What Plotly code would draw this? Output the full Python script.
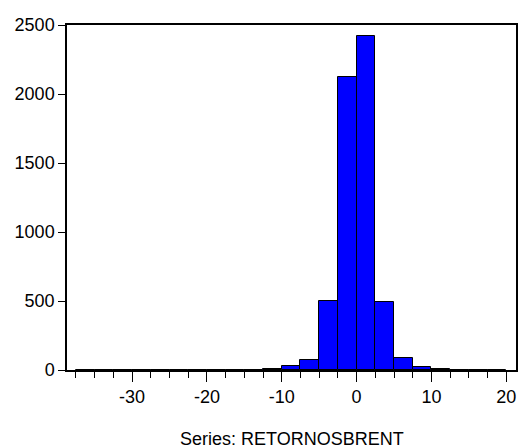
import plotly.graph_objects as go

bin_edges = [-37.5, -35, -32.5, -30, -27.5, -25, -22.5, -20, -17.5, -15, -12.5,
             -10, -7.5, -5, -2.5, 0, 2.5, 5, 7.5, 10, 12.5, 15, 17.5, 20]
counts = [2, 0, 0, 0, 0, 0, 0, 1, 1, 2, 5,
          32, 75, 500, 2121, 2423, 490, 87, 25, 10, 3, 1, 1]

x_ticks = [-30, -20, -10, 0, 10, 20]
y_ticks = [0, 500, 1000, 1500, 2000, 2500]
title_text = "Series: RETORNOSBRENT"

centers = [(a + b) / 2 for a, b in zip(bin_edges[:-1], bin_edges[1:])]
widths = [b - a for a, b in zip(bin_edges[:-1], bin_edges[1:])]

fig = go.Figure(go.Bar(
    x=centers, y=counts, width=widths,
    marker=dict(color="#0000FF", line=dict(color="black", width=1)),
))

font = dict(family="Liberation Sans, Arial, sans-serif", size=18, color="black")

fig.update_layout(
    width=518, height=448,
    margin=dict(l=67, r=2, t=25, b=78, autoexpand=False),
    paper_bgcolor="white", plot_bgcolor="white",
    showlegend=False,
    font=font,
    bargap=0,
)
fig.update_xaxes(
    range=[-38.7, 21.3], automargin=False,
    tickvals=x_ticks, ticktext=[str(v) for v in x_ticks],
    ticks="outside", ticklen=10, tickwidth=1, tickcolor="black",
    minor=dict(dtick=2.5, tick0=0, ticks="outside", ticklen=6, tickwidth=1, tickcolor="black", showgrid=False),
    showline=True, linecolor="black", linewidth=1.5, mirror=True,
    showgrid=False, zeroline=False, tickfont=font,
    ticklabeloverflow="allow",
)
fig.update_yaxes(
    range=[0, 2500], automargin=False,
    tickvals=y_ticks, ticktext=[str(v) for v in y_ticks],
    ticks="outside", ticklen=7, tickwidth=1, tickcolor="black",
    showline=True, linecolor="black", linewidth=1.5, mirror=True,
    showgrid=False, zeroline=False, tickfont=font,
)
fig.add_annotation(
    text=title_text, xref="paper", yref="paper", x=0.5, y=-0.2,
    yanchor="middle", xanchor="center", showarrow=False, font=font,
)

fig.write_html(
    "out.html",
    config={"displayModeBar": False},
    post_script="document.body.style.margin='0';document.body.style.overflow='hidden';",
)
